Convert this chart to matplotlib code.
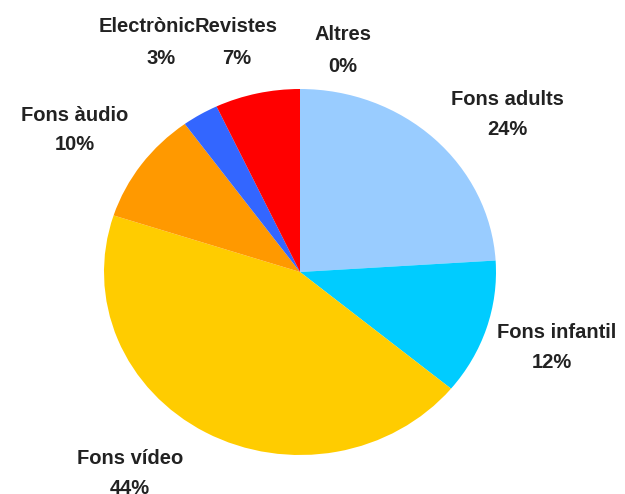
import matplotlib.pyplot as plt

# dades del gràfic
categories = ['Fons adults', 'Fons infantil', 'Fons vídeo', 'Fons àudio',
              'Electrònic', 'Revistes', 'Altres']
percent = [24, 12, 44, 10, 3, 7, 0]
colors = ['#99CCFF', '#00CCFF', '#FFCC00', '#FF9900', '#3366FF', '#FF0000', '#999999']

# posicions de les etiquetes (píxels, centre de cada línia)
label_xy = [(507, 99), (557, 332), (130, 458), (75, 115),
            (147, 27), (236, 27), (343, 35)]
pct_xy = [(507, 129), (552, 362), (130, 488), (75, 145),
          (161, 58), (237, 58), (343, 66)]

W, H = 625, 494
fig = plt.figure(figsize=(W / 100, H / 100), dpi=100)
fig.patch.set_facecolor('white')

# el pastís és lleugerament el·líptic (392 x 366 px)
ax = fig.add_axes([104 / W, (H - 455) / H, 392 / W, 366 / H])
ax.pie(percent, colors=colors, startangle=90, counterclock=False,
       wedgeprops=dict(linewidth=0))
ax.set_aspect('auto')
ax.set_xlim(-1, 1)
ax.set_ylim(-1, 1)
ax.axis('off')

font = dict(family=['Liberation Sans', 'DejaVu Sans'], fontweight='bold',
            fontsize=14.5, color='#222222', ha='center', va='center')
for name, p, (lx, ly), (px, py) in zip(categories, percent, label_xy, pct_xy):
    fig.text(lx / W, 1 - ly / H, name, **font)
    fig.text(px / W, 1 - py / H, f'{p}%', **font)

fig.savefig('out.png', dpi=100, facecolor='white')
